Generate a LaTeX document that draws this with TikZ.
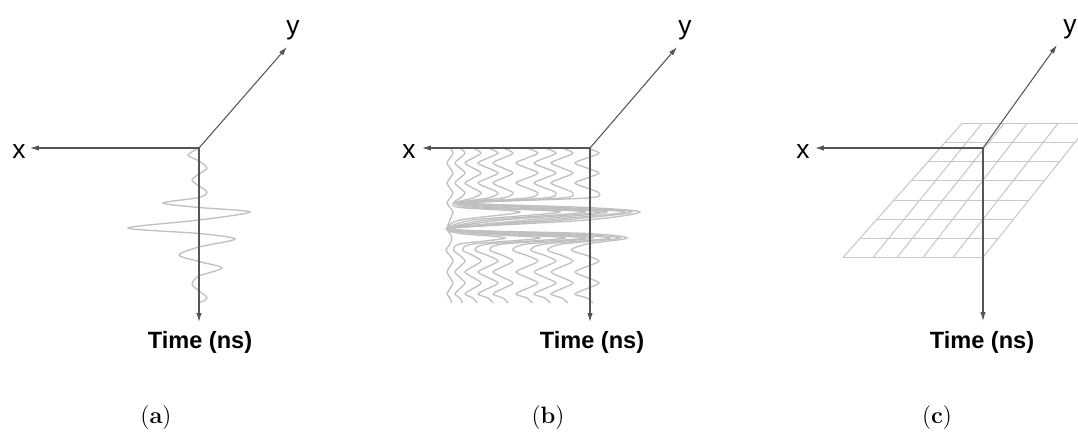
\documentclass[tikz,border=0pt]{standalone}
\usepackage{fontspec}
\setsansfont{Liberation Sans}
\usepackage{tikz}
\usetikzlibrary{arrows.meta, positioning}
\definecolor{axisgray}{RGB}{85,85,85}
\definecolor{wavegray}{RGB}{192,192,192}
\definecolor{gridgray}{RGB}{200,200,200}

\begin{document}
\begin{tikzpicture}[x=0.02cm, y=-0.02cm,
		axis/.style={draw=axisgray, line width=0.6pt, -{Latex[length=5pt,width=3pt]}},
		wave/.style={draw=wavegray, line width=0.75pt},
		gridline/.style={draw=gridgray, line width=0.6pt},
		lab/.style={anchor=base, inner sep=0pt, font=\sffamily\fontsize{15}{18}\selectfont},
		tlab/.style={anchor=base, inner sep=0pt, font=\sffamily\bfseries\fontsize{13.4}{16}\selectfont},
		captext/.style={anchor=base, inner sep=0pt, font=\rmfamily\fontsize{13.5}{16}\selectfont}]
	\useasboundingbox (0,0) rectangle (1078,434);
	
	% (a) single trace
	\draw[wave] plot[smooth] coordinates {(199,148) (188,155) (199,161) (207,168) (199,174) (192,180) (199,186) (207,192) (199,197.5) (163,203) (199,207.5) (250,212) (199,220) (128,228) (199,233.5) (235,239) (199,247) (179,255) (199,261.5) (222,268) (199,276) (192,284) (199,291) (207,298) (199,303)};
	
	% (b) B-scan traces: base x / amplitude / right peaks
	\foreach \xo/\a/\ra/\rb in {450/3/453/452, 460/5/520/505, 473/8/560/540, 488/10/585/565, 503/10/600/585, 527/11/607/593, 545/11/625/610, 562/11/632/620, 587/12/640/627}{
		\draw[wave] plot[smooth] coordinates {(\xo,148) ({\xo+\a},153) (\xo,158) ({\xo-\a},163) (\xo,168) ({\xo+\a},173) (\xo,178) ({\xo-\a},183) (\xo,188) ({\xo+\a},193) (\xo,198)
			({min(\xo-\a,452+0.12*(\xo-450))},203) (\xo,207.5) (\ra,212) (\xo,220) ({min(\xo-\a,447)},229) (\xo,233.5) (\rb,238) (\xo,244) ({\xo-1.3*\a},250) (\xo,255.5) ({\xo+\a},261) (\xo,266.5) ({\xo-\a},272) (\xo,277.5) ({\xo+\a},283) (\xo,288.5) ({\xo-\a},294) (\xo,298) ({\xo+0.5*\a},303)};
	}
	
	% (c) C-scan slice
	\begin{scope}
		\clip (0,0) rectangle (1078,434);
		\foreach \i in {0,...,7}
			\draw[gridline] ({962-119*\i/7},{123.5+134*\i/7}) -- ({1090-107*\i/7},{123.5+134*\i/7});
		\foreach \t/\b in {962/843, 982/873, 1004/897, 1027/923, 1058/953, 1090/983}
			\draw[gridline] (\t,123.5) -- (\b,257.5);
	\end{scope}
	
	% axes
	\coordinate (oa) at (199,148);
	\coordinate (xa) at (30,148);
	\coordinate (ya) at (287,47);
	\coordinate (ta) at (199,322);
	\coordinate (ob) at (590,148);
	\coordinate (xb) at (422,148);
	\coordinate (yb) at (677,47);
	\coordinate (tb) at (590,322);
	\coordinate (oc) at (983,148);
	\coordinate (xc) at (815,148);
	\coordinate (yc) at (1057,45);
	\coordinate (tc) at (983,321);
	
	\foreach \p in {a,b,c}{
		\draw[axis] (o\p) -- (x\p);
		\draw[axis] (o\p) -- (y\p);
		\draw[axis] (o\p) -- (t\p);
	}
	
	\node[lab] (xla) at (19,158) {x};
	\node[lab] (yla) at (293,34) {y};
	\node[lab] (xlb) at (409,158) {x};
	\node[lab] (ylb) at (685,34) {y};
	\node[lab] (xlc) at (803,158) {x};
	\node[lab] (ylc) at (1070,33) {y};
	
	\node[tlab] (tla) at (200,348) {Time (ns)};
	\node[tlab] (tlb) at (592,348) {Time (ns)};
	\node[tlab] (tlc) at (982,348) {Time (ns)};
	
	\node[captext] (capa) at (156,423) {(\textbf{a})};
	\node[captext] (capb) at (548,423) {(\textbf{b})};
	\node[captext] (capc) at (937,423) {(\textbf{c})};
\end{tikzpicture}
\end{document}
